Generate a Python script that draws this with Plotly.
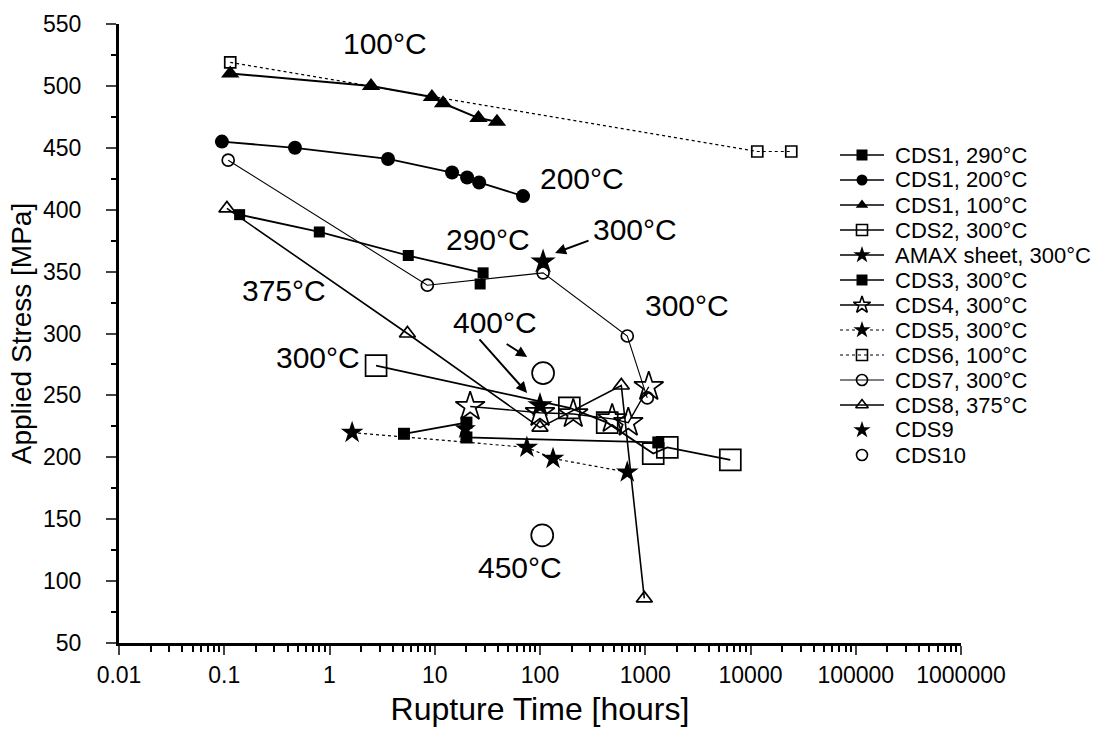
import math
import plotly.graph_objects as go

# ---- data (rupture time [h], applied stress [MPa]) ----
cds1_290_t = [0.14, 0.8, 5.6, 28.8, 27]
cds1_290_s = [396, 382, 363, 349, 340]
cds1_200_t = [0.095, 0.47, 3.6, 14.6, 20.3, 26.4, 69]
cds1_200_s = [455, 450, 441, 430, 426, 422, 411]
cds1_100_t = [0.114, 2.48, 9.4, 12, 26, 39]
cds1_100_s = [510, 500, 491, 486, 474, 471]
cds2_t = [2.77, 190, 435, 1190, 1620, 6430]
cds2_s = [274, 240, 228, 203, 208, 198]
amax_t = [19.5]
amax_s = [223]
cds3_t = [5.1, 20, 20, 1330]
cds3_s = [219, 228, 216, 212]
cds4_t = [21.7, 100, 207, 485, 690, 1080]
cds4_s = [241, 236, 235, 231, 228, 257]
cds5_t = [1.64, 75, 133, 675]
cds5_s = [220, 208, 199, 188]
cds6_t = [0.114, 11600, 24400]
cds6_s = [519, 447, 447]
cds7_t = [0.109, 8.5, 107, 675, 1045]
cds7_s = [440, 339, 349, 298, 248]
cds8_t = [0.106, 5.5, 100, 592, 980]
cds8_s = [401, 300, 224, 258, 86]
cds9_t = [107, 100]
cds9_s = [358, 242]
cds10_t = [107, 105]
cds10_s = [268, 137]

x_ticks = [0.01, 0.1, 1, 10, 100, 1000, 10000, 100000, 1000000]
x_tick_text = ["0.01", "0.1", "1", "10", "100", "1000", "10000", "100000", "1000000"]
y_ticks = [50, 100, 150, 200, 250, 300, 350, 400, 450, 500, 550]

# text labels: (text, time, stress)
labels = [
    ("100°C", 3.38, 534),
    ("200°C", 250, 425),
    ("290°C", 32, 376),
    ("300°C", 800, 384),
    ("375°C", 0.37, 335),
    ("300°C", 2500, 323),
    ("400°C", 37, 309),
    ("300°C", 0.78, 281),
    ("450°C", 65, 111),
]
# arrows: (tip time, tip stress, dx px, dy px)
arrows = [
    (139, 365, 35, -13),
    (75.5, 252, -49, -55),
    (75.5, 281, -22, -14),
]

BLACK = "black"
series = [
    ("CDS1, 290°C", cds1_290_t, cds1_290_s, "square", 11, "solid", 1.8, "lines+markers"),
    ("CDS1, 200°C", cds1_200_t, cds1_200_s, "circle", 14, "solid", 1.8, "lines+markers"),
    ("CDS1, 100°C", cds1_100_t, cds1_100_s, "triangle-up", 16, "solid", 2.0, "lines+markers"),
    ("CDS2, 300°C", cds2_t, cds2_s, "square-open", 21, "solid", 1.8, "lines+markers"),
    ("AMAX sheet, 300°C", amax_t, amax_s, "star", 16, "solid", 1.8, "lines+markers"),
    ("CDS3, 300°C", cds3_t, cds3_s, "square", 12, "solid", 1.8, "lines+markers"),
    ("CDS4, 300°C", cds4_t, cds4_s, "star-open", 22, "solid", 1.4, "lines+markers"),
    ("CDS5, 300°C", cds5_t, cds5_s, "star", 17, "dot", 1.2, "lines+markers"),
    ("CDS6, 100°C", cds6_t, cds6_s, "square-open", 11, "dot", 1.2, "lines+markers"),
    ("CDS7, 300°C", cds7_t, cds7_s, "circle-open", 12, "solid", 1.1, "lines+markers"),
    ("CDS8, 375°C", cds8_t, cds8_s, "triangle-up-open", 14, "solid", 1.6, "lines+markers"),
    ("CDS9", cds9_t, cds9_s, "star", 19, "solid", 1.0, "markers"),
    ("CDS10", cds10_t, cds10_s, "circle-open", 22, "solid", 1.0, "markers"),
]

# plot-area geometry in pixels (for the hand-drawn legend box)
L, R, T, B = 119, 961, 24, 643
def fx(px):
    return (px - L) / (R - L)
def fy(py):
    return (B - py) / (B - T)

FONT = "Liberation Sans, Arial, Helvetica, sans-serif"
fig = go.Figure()
for name, t, s, sym, size, dash, lw, mode in series:
    fig.add_trace(go.Scatter(
        x=t, y=s, name=name, mode=mode, showlegend=False,
        line=dict(color=BLACK, width=lw, dash=dash),
        marker=dict(symbol=sym, size=size, color=BLACK,
                    line=dict(color=BLACK, width=1.7 if "open" in sym else 0)),
    ))

# legend drawn on an overlay axis: rows 25 px apart
leg_top, leg_step = 155, 25
for i, (name, t, s, sym, size, dash, lw, mode) in enumerate(series):
    yy = fy(leg_top + leg_step * i)
    if mode == "lines+markers":
        fig.add_trace(go.Scatter(
            x=[fx(840), fx(862), fx(884)], y=[yy, yy, yy], mode="lines",
            line=dict(color=BLACK, width=min(lw, 1.6), dash=dash),
            xaxis="x2", yaxis="y2", showlegend=False, hoverinfo="skip"))
    fig.add_trace(go.Scatter(
        x=[fx(862)], y=[yy], mode="markers", xaxis="x2", yaxis="y2",
        showlegend=False, hoverinfo="skip", cliponaxis=False,
        marker=dict(symbol=sym, size=13 if "star" in sym else 11, color=BLACK,
                    line=dict(color=BLACK, width=1.6 if "open" in sym else 0))))
    fig.add_annotation(x=fx(893), y=yy, xref="paper", yref="paper", text=name,
                       showarrow=False, xanchor="left", yanchor="middle",
                       font=dict(size=22, color=BLACK, family=FONT))

for txt, t, s in labels:
    fig.add_annotation(x=math.log10(t), y=s, text=txt, showarrow=False,
                       font=dict(size=30, color=BLACK, family=FONT))
for t, s, dx, dy in arrows:
    fig.add_annotation(x=math.log10(t), y=s, text="", showarrow=True, ax=dx, ay=dy,
                       arrowhead=2, arrowsize=1.1, arrowwidth=2, arrowcolor=BLACK)

minor_x = [m * 10 ** e for e in range(-2, 6) for m in range(2, 10)]

fig.update_layout(
    width=1106, height=742,
    paper_bgcolor="white", plot_bgcolor="white",
    margin=dict(l=L, r=1106 - R, t=T, b=742 - B),
    font=dict(family=FONT, color=BLACK, size=23),
    showlegend=False,
    xaxis=dict(type="log", range=[-2, 6], tickmode="array", tickvals=x_ticks,
               ticktext=x_tick_text, ticks="outside", ticklen=9, tickwidth=2,
               ticklabelstandoff=0,
               showline=True, linewidth=3, linecolor=BLACK, showgrid=False, zeroline=False,
               tickfont=dict(size=23),
               minor=dict(tickmode="array", tickvals=minor_x, ticks="outside", ticklen=6,
                          tickwidth=1.5, tickcolor=BLACK, showgrid=False),
               title=dict(text="Rupture Time [hours]", font=dict(size=32), standoff=12)),
    yaxis=dict(range=[50, 550], tickmode="array", tickvals=y_ticks, ticks="outside",
               ticklen=10, tickwidth=2, ticklabelstandoff=20,
               showline=True, linewidth=3, linecolor=BLACK,
               showgrid=False, zeroline=False, tickfont=dict(size=23),
               minor=dict(dtick=25, tick0=50, ticks="outside", ticklen=5, tickwidth=1.5,
                          tickcolor=BLACK, showgrid=False),
               title=dict(text="Applied Stress [MPa]", font=dict(size=28), standoff=4)),
    xaxis2=dict(overlaying="x", range=[0, 1], visible=False, anchor="y2"),
    yaxis2=dict(overlaying="y", range=[0, 1], visible=False, anchor="x2"),
)

fig.write_html("out.html")
